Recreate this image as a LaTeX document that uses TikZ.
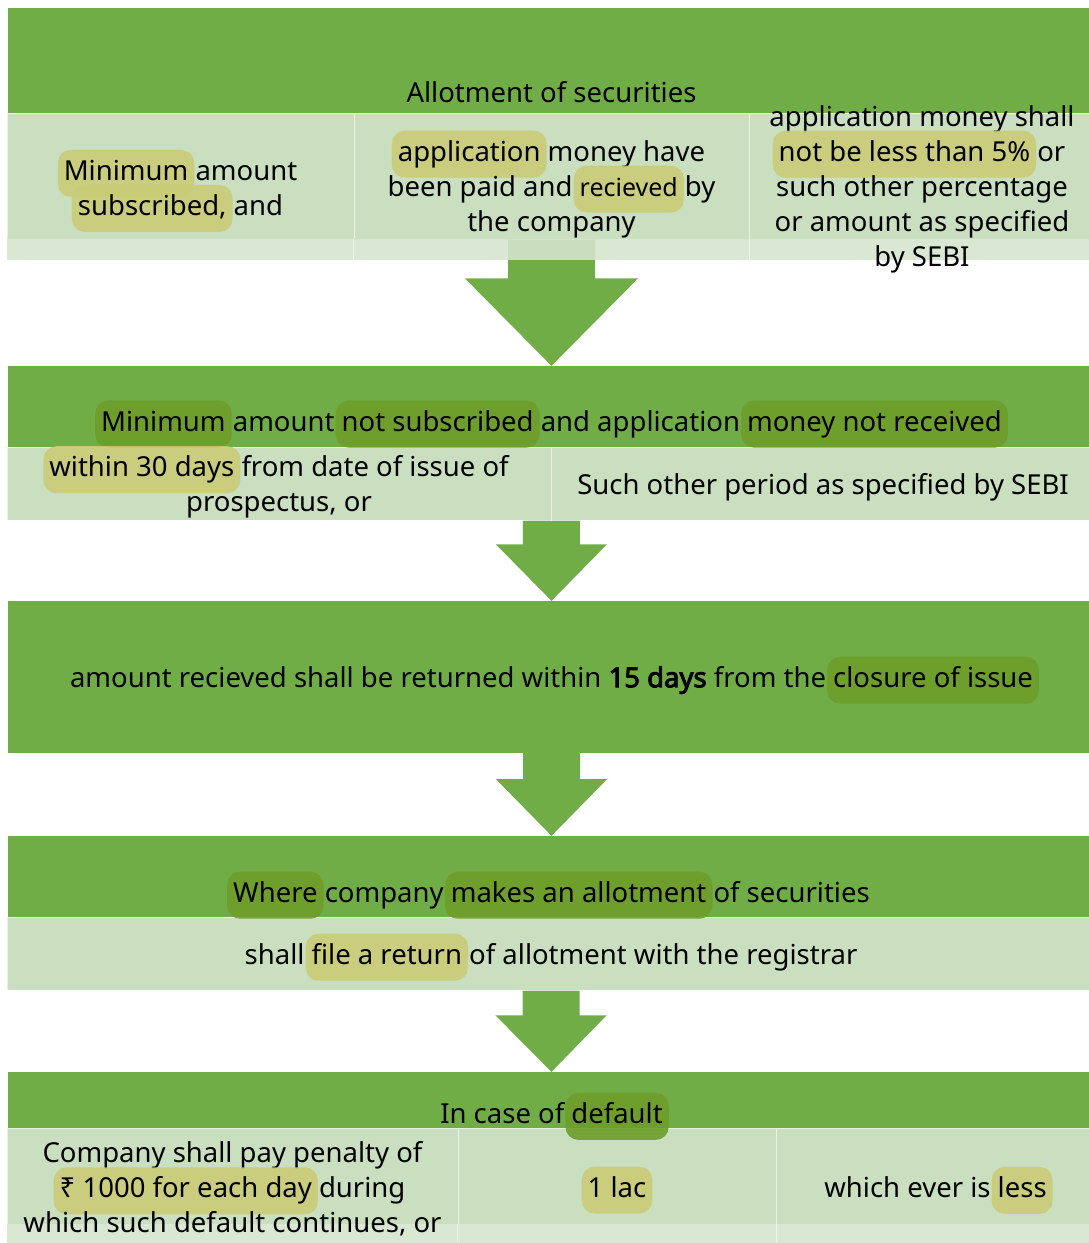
\documentclass[tikz,border=0pt]{standalone}
\usepackage{fontspec}
\setmainfont{Noto Sans}
\newfontfamily\boldsans{Noto Sans}[FakeBold=3.5]
\usetikzlibrary{calc, backgrounds}

\definecolor{grn}{HTML}{70AD47}
\definecolor{subgrn}{HTML}{C9DFC0}
\definecolor{bandgrn}{HTML}{D4E4CE}
\definecolor{hlyel}{HTML}{C9CC76}
\definecolor{hlolive}{HTML}{6E9D2A}

% word highlights (pill behind the text)
\newcommand{\hlY}[1]{\hspace{-6pt}\smash{\tikz[baseline=(h.base)]\node[hlpill, fill=hlyel] (h) {\strut #1};}\hspace{-6pt}}
\newcommand{\hlO}[1]{\hspace{-6pt}\smash{\tikz[baseline=(h.base)]\node[hlpill, fill=hlolive] (h) {\strut #1};}\hspace{-6pt}}
% block arrow: from, to, shaft half width, head half width, shaft length
\newcommand{\flowarrow}[5]{%
  \fill[flow] ($(#1)+(-#3,0)$) -- ($(#1)+(#3,0)$) -- ($(#1)+(#3,#5)$) -- ($(#1)+(#4,#5)$)
    -- (#2) -- ($(#1)+(-#4,#5)$) -- ($(#1)+(-#3,#5)$) -- cycle;}

\tikzset{hlpill/.style={draw=none, inner xsep=6pt, inner ysep=6pt, rounded corners=13pt,
                        fill opacity=0.9, text opacity=1}}

\begin{document}
\begin{tikzpicture}[
  x=1pt, y=-1pt,
  font=\fontsize{27.5pt}{35pt}\selectfont,
  greenbox/.style={fill=grn, draw=none, minimum width=1087pt, inner sep=0pt},
  subbox/.style={fill=subgrn, draw=white, draw opacity=0.6, line width=0.8pt, inner sep=0pt},
  band/.style={fill=bandgrn, fill opacity=0.89},
  divider/.style={draw=white, draw opacity=0.6, line width=0.8pt},
  txt/.style={align=center, inner sep=0pt},
  flow/.style={fill=grn},
]
\useasboundingbox (0,0) rectangle (1089,1243);

% green header blocks
\node[greenbox, minimum height=105pt] (gAllot)   at (551.5,60.5)  {};
\node[greenbox, minimum height=81pt]  (gLapse)   at (551.5,406.5) {};
\node[greenbox, minimum height=152pt] (gRefund)  at (551.5,677)   {};
\node[greenbox, minimum height=81pt]  (gFile)    at (551.5,876.5) {};
\node[greenbox, minimum height=56pt]  (gDefault) at (551.5,1100)  {};

% light sub boxes
\node[subbox, minimum width=347pt, minimum height=126pt] (aMin)  at (180.5,176) {};
\node[subbox, minimum width=395pt, minimum height=126pt] (aPaid) at (551.5,176) {};
\node[subbox, minimum width=346pt, minimum height=126pt] (aPct)  at (922,176)   {};
\fill[band] (aMin.south west) rectangle ($(aPct.south east)+(0,21)$);
\draw[divider] (aPaid.south west) -- ++(0,21) (aPaid.south east) -- ++(0,21);

\node[subbox, minimum width=544pt, minimum height=73pt] (bDays) at (279,483.5) {};
\node[subbox, minimum width=544pt, minimum height=73pt] (bSebi) at (823,483.5) {};

\node[subbox, minimum width=1088pt, minimum height=73pt] (dReturn) at (551,953.5) {};

\node[subbox, minimum width=451pt, minimum height=96pt] (ePen)  at (232.5,1176) {};
\node[subbox, minimum width=318pt, minimum height=96pt] (eLac)  at (617,1176)   {};
\node[subbox, minimum width=319pt, minimum height=96pt] (eLess) at (935.5,1176) {};
\fill[band] (ePen.south west) rectangle ($(eLess.south east)+(0,21)$);
\draw[divider] (eLac.south west) -- ++(0,21) (eLac.south east) -- ++(0,21);

% texts
\node[txt] (tAllot) at (551.5,92) {Allotment of securities};
\node[txt] (tMin)  at (180.5,189) {\hlY{Minimum} amount\\ \hlY{subscribed,} and};
\node[txt] (tPaid) at (551.5,189) {\hlY{application} money have\\ been paid and \hlY{\fontsize{25pt}{35pt}\selectfont recieved} by\\ the company};
\node[txt] (tPct)  at (922,189) {application money shall\\ \hlY{not be less than 5\%} or\\ such other percentage\\ or amount as specified\\ by SEBI};

\node[txt] (tLapse) at (551.5,424) {\hlO{Minimum} amount \hlO{not subscribed} and application \hlO{money not received}};
\node[txt] (tDays) at (279,487) {\hlY{within 30 days} from date of issue of\\ prospectus, or};
\node[txt] (tSebi) at (823,487) {Such other period as specified by SEBI};

\node[txt] (tRefund) at (551.5,680) {amount recieved shall be returned within {\boldsans 15 days} from the \hlO{closure of issue}};

\node[txt] (tFile) at (551.5,895) {\hlO{Where} company \hlO{makes an allotment} of securities};
\node[txt] (tReturn) at (551,957) {shall \hlY{file a return} of allotment with the registrar};

\node[txt] (tDefault) at (551.5,1113) {In case of \hlO{default}};
\node[txt] (tPen)  at (232.5,1189) {Company shall pay penalty of\\ \hlY{₹ 1000 for each day} during\\ which such default continues, or};
\node[txt] (tLac)  at (617,1190)   {\strut\hlY{1 lac}};
\node[txt] (tLess) at (935.5,1187) {which ever is \hlY{less}};

% block arrows between the stages
\begin{scope}[on background layer]
\flowarrow{aPaid.south}{gLapse.north}{43.5}{86.5}{39}
\flowarrow{bDays.south east}{gRefund.north}{28.5}{55.5}{24}
\flowarrow{gRefund.south}{gFile.north}{28.5}{55.5}{26}
\flowarrow{dReturn.south}{gDefault.north}{28.5}{55.5}{25}
\end{scope}

\end{tikzpicture}
\end{document}
